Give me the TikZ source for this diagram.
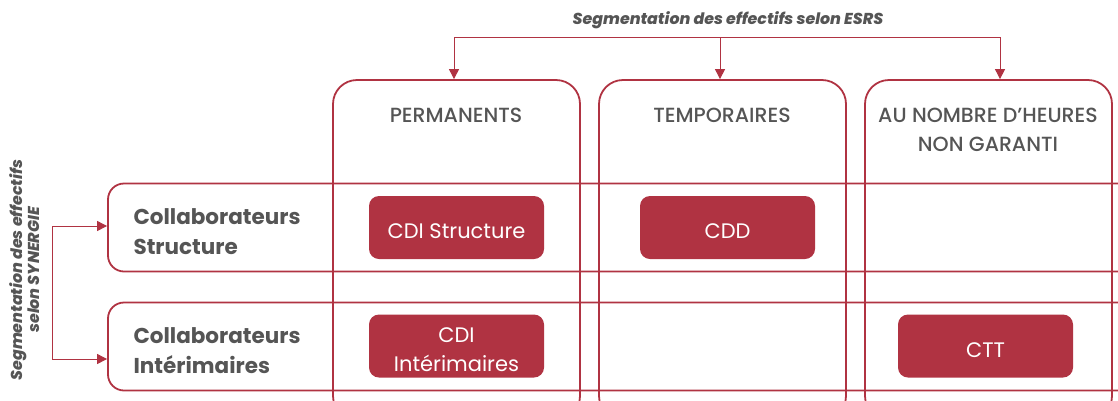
\documentclass[tikz,border=0pt]{standalone}
\usepackage{fontspec}
\setmainfont{Poppins}
\newfontfamily\popmed{Poppins Medium}
\newfontfamily\popxb{Poppins ExtraBold}
\usetikzlibrary{arrows.meta,positioning}
\definecolor{accent}{HTML}{B03342}
\definecolor{txtgrey}{HTML}{555555}
\begin{document}
\begin{tikzpicture}[x=1pt,y=-1pt,
  colbox/.style={draw=accent,line width=1.8pt,rounded corners=24pt,minimum width=247pt,minimum height=340pt,inner sep=0pt},
  rowbox/.style={draw=accent,line width=1.8pt,rounded corners=16pt,minimum width=1030pt,minimum height=88pt,inner sep=0pt},
  fillbox/.style={fill=accent,rounded corners=10pt,minimum width=175pt,minimum height=63pt,inner sep=0pt},
  boxtext/.style={text=white,font=\fontsize{21}{29}\selectfont,align=center,inner sep=0pt},
  head/.style={text=txtgrey,font=\popmed\fontsize{20.5}{29}\selectfont,align=center},
  rowlab/.style={text=txtgrey,font=\bfseries\fontsize{21.5}{30}\selectfont,align=left,anchor=west},
  seg/.style={text=txtgrey,font=\popxb\itshape\fontsize{15.8}{15}\selectfont,align=center},
  conn/.style={draw=accent,line width=1pt,-{Triangle[length=10pt,width=10pt]}}
]
\useasboundingbox (0,0) rectangle (1118,400);
\clip (0,0) rectangle (1118,400);
% columns
\node[colbox] (c1) at (456.5,250) {};
\node[colbox] (c2) at (722.5,250) {};
\node[colbox] (c3) at (988.5,250) {};
% rows
\node[rowbox] (r1) at (623,227.5) {};
\node[rowbox] (r2) at (623,346.5) {};
% headers
\node[head] (h1) at (456,115) {PERMANENTS};
\node[head] (h2) at (722,115) {TEMPORAIRES};
\node[head] (h3) at (988,129.5) {AU NOMBRE D’HEURES\\NON GARANTI};
% row labels
\node[rowlab] (l1) at (130,232) {Collaborateurs\\Structure};
\node[rowlab] (l2) at (130,351) {Collaborateurs\\Intérimaires};
% filled boxes
\node[fillbox] (b1) at (456.5,227.5) {};
\node[fillbox] (b2) at (727.5,227.5) {};
\node[fillbox] (b3) at (456.5,346) {};
\node[fillbox] (b4) at (985.5,346) {};
\node[boxtext] (bt1) at ([yshift=-4pt]b1.center) {CDI Structure};
\node[boxtext] (bt2) at ([yshift=-4pt]b2.center) {CDD};
\node[boxtext] (bt3) at ([yshift=-4pt]b3.center) {CDI\\Intérimaires};
\node[boxtext] (bt4) at ([yshift=-4pt]b4.center) {CTT};
% top segmentation
\node[seg] (t) at (728,20) {Segmentation des effectifs selon ESRS};
\coordinate (ta) at (454,37);
\coordinate (tb) at (720,37);
\coordinate (tc) at (1000,37);
\draw[draw=accent,line width=1pt] (ta) -- (tc);
\draw[conn] (ta) -- (ta |- c1.north);
\draw[conn] (tb) -- (tb |- c2.north);
\draw[conn] (tc) -- (tc |- c3.north);
% left segmentation
\node[seg,rotate=90] (s) at (25,270) {Segmentation des effectifs\\selon SYNERGIE};
\coordinate (la) at (52,226);
\coordinate (lb) at (52,359);
\draw[draw=accent,line width=1pt] (la) -- (lb);
\draw[conn] (la) -- (la -| r1.west);
\draw[conn] (lb) -- (lb -| r2.west);
\end{tikzpicture}
\end{document}
